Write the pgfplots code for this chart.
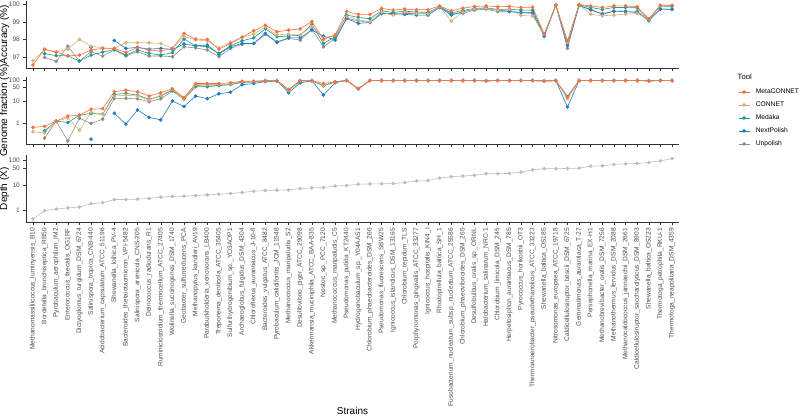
\documentclass[border=0pt]{standalone}
\usepackage{pgfplots}
\pgfplotsset{compat=1.18}
\usepackage{pgfplotstable}
\usepackage{fontspec}
\setmainfont{Liberation Sans}
\definecolor{cMeta}{HTML}{F8703F}
\definecolor{cCon}{HTML}{DDB07A}
\definecolor{cMed}{HTML}{1C9C8A}
\definecolor{cNext}{HTML}{1E7DC8}
\definecolor{cUn}{HTML}{8D8D8D}
\definecolor{cDep}{HTML}{BDBDBD}
\definecolor{gthirty}{HTML}{4D4D4D}
\definecolor{axcol}{HTML}{333333}

\pgfplotstableread{
i acM acC acD acN acU gfM gfC gfD gfN gfU dep
0 96.55 96.79 nan nan nan 0.61 0.38 nan nan nan 0.47
1 97.45 97.40 97.19 nan 96.98 0.68 0.33 0.42 nan 0.19 1.0
2 97.28 97.28 97.08 nan 96.76 1.2 1.2 1.2 nan 1.2 1.17
3 97.07 97.45 97.07 nan 97.62 2.1 1.7 1.04 nan 0.14 1.3
4 97.11 98.00 96.77 nan 96.77 2.3 0.45 2.3 nan 1.66 1.4
5 97.40 97.62 97.11 97.55 97.30 4.4 3.1 2.75 0.17 0.94 1.9
6 97.49 97.52 97.28 nan 97.06 4.7 2.6 2.55 nan 1.49 2.1
7 97.49 97.49 97.43 97.94 97.40 29.5 18.4 22 2.85 14.4 2.8
8 97.26 97.81 97.11 97.49 97.06 35 20 24.6 0.87 14.4 2.8
9 97.55 97.81 97.40 97.55 97.30 29.5 18.4 20.5 4.07 13.7 2.9
10 97.40 97.81 97.21 97.45 97.06 18.4 12 12.9 1.8 10.0 3.1
11 97.34 97.77 97.11 97.49 97.06 26.5 20 18.4 1.38 13.7 3.5
12 97.49 97.49 97.25 97.43 97.02 41 38 35 10.7 31.6 3.7
13 98.34 98.15 98.02 97.74 97.58 15.5 12.9 14 5.9 12.9 3.8
14 98.02 97.98 97.64 97.64 97.52 72 65 58 18.4 50.6 4.06
15 98.00 97.91 97.58 97.68 97.40 72 65 54 13.9 50.6 4.3
16 97.45 97.52 97.21 97.17 97.02 72 65 58 23.7 58 4.57
17 97.77 97.83 97.64 97.58 97.49 78 70 65 28 65 4.87
18 98.13 98.11 97.92 97.77 97.74 93 88 85 63 80 5.34
19 98.49 98.30 98.09 97.77 97.77 93 90 88 72 85 6.0
20 98.81 98.70 98.60 98.34 98.28 100 95 92 90 90 6.4
21 98.43 98.25 98.15 97.85 97.83 99 97 96 95 96 6.6
22 98.53 98.30 98.19 98.09 98.06 38 34 34 26.6 36 6.76
23 98.60 98.25 98.23 98.09 97.96 100 98 96 78 96 7.68
24 99.02 98.75 98.85 98.53 98.58 99 99 99 98 98 8.1
25 98.00 98.09 97.77 98.19 97.58 72 60 58 20.5 55 8.4
26 98.25 98.23 98.15 97.96 98.06 87 88 86 78 85 9.7
27 99.59 99.30 99.38 99.19 99.19 100 100 100 100 100 10.1
28 99.42 99.10 99.25 98.91 99.06 41 41 41 41 41 11.4
29 99.42 99.00 99.17 98.96 98.96 99.6 99.6 99.6 99.6 99.6 11.7
30 99.76 99.55 99.62 99.47 99.47 99.6 99.6 99.6 99.6 99.6 11.9
31 99.66 99.38 99.53 99.47 99.42 99.6 99.6 99.6 99.6 99.6 12.1
32 99.72 99.55 99.60 99.42 99.47 99.6 99.6 99.6 99.6 99.6 13.3
33 99.68 99.47 99.55 99.38 99.47 99.6 99.6 99.6 99.6 99.6 15.3
34 99.68 99.45 99.53 99.38 99.45 99.6 99.6 99.6 99.6 99.6 15.9
35 99.90 99.85 99.85 99.81 99.81 99.6 99.6 99.6 99.6 99.6 20.1
36 99.62 99.04 99.51 99.38 99.45 99.6 99.6 99.6 99.6 99.6 22.9
37 99.77 99.55 99.64 99.57 99.47 99.6 99.6 99.6 99.6 99.6 24.2
38 99.87 99.72 99.76 99.70 99.66 99.6 99.6 99.6 99.6 99.6 25.8
39 99.90 99.75 99.79 99.75 99.72 97 97 97 97 97 30.0
40 99.85 99.66 99.70 99.66 99.57 99.6 99.6 99.6 99.6 99.6 30.0
41 99.87 99.70 99.72 99.60 99.57 99.6 99.6 99.6 99.6 99.6 30.9
42 99.81 99.36 99.66 99.53 99.51 99.6 99.6 99.6 99.6 99.6 34.8
43 99.83 99.32 99.66 99.53 99.47 99.6 99.6 99.6 99.6 99.6 43.3
44 98.31 98.28 98.28 98.17 98.25 95 95 95 95 95 47.4
45 99.94 99.94 99.94 99.94 99.94 99.6 99.6 99.6 99.6 99.6 47.4
46 97.92 97.83 97.81 97.66 97.49 16.6 13.9 17.5 5.6 15.5 48.7
47 99.98 99.96 99.96 99.92 99.94 99.6 99.6 99.6 99.6 99.6 50
48 99.90 99.43 99.81 99.70 99.66 99.6 99.6 99.6 99.6 99.6 60
49 99.81 99.34 99.70 99.42 99.47 99.6 99.6 99.6 99.6 99.6 62
50 99.90 99.38 99.81 99.60 99.60 99.6 99.6 99.6 99.6 99.6 70
51 99.90 99.43 99.81 99.57 99.60 99.6 99.6 99.6 99.6 99.6 75
52 99.85 99.47 99.79 99.53 99.60 99.6 99.6 99.6 99.6 99.6 77
53 99.17 99.15 99.15 99.06 99.12 97 97 97 97 97 84
54 99.94 99.92 99.89 99.72 99.72 99.6 99.6 99.6 99.6 99.6 98
55 99.94 99.92 99.87 99.70 99.72 99.6 99.6 99.6 99.6 99.6 121
}\strains

\pgfplotsset{
  panel/.style={
    scale only axis, width=653pt, height=66.5pt,
    xmin=-0.6, xmax=55.6,
    axis x line*=bottom, axis y line*=left,
    axis line style={axcol, line width=0.6pt},
    every tick/.style={axcol, line width=0.5pt},
    tick align=outside, major tick length=2.6pt,
    xtick={0,...,55},
    tick label style={font=\fontsize{6.6}{7.5}\selectfont, text=gthirty},
    /pgf/number format/assume math mode=true,
    unbounded coords=jump,
    label style={font=\fontsize{8.3}{9.5}\selectfont},
    every axis y label/.style={at={(axis description cs:-0.0329,0.5)}, rotate=90, anchor=center},
    clip=false,
  },
  ser/.style={line width=0.6pt, #1, mark=*, mark size=1.5pt, mark options={solid, fill=#1, draw=#1}},
}

\begin{document}
\begin{tikzpicture}[x=1pt,y=1pt]
\path[use as bounding box] (0,0) rectangle (800,417);

% Accuracy
\begin{axis}[panel, at={(26pt,349pt)}, anchor=south west,
  ymin=96.38, ymax=100.15, ytick={97,98,99,100}, xticklabels={},
  ylabel={Accuracy (\%)}]
\addplot[ser=cUn] table[x=i,y=acU]{\strains};
\addplot[ser=cNext] table[x=i,y=acN]{\strains};
\addplot[ser=cMed] table[x=i,y=acD]{\strains};
\addplot[ser=cCon] table[x=i,y=acC]{\strains};
\addplot[ser=cMeta] table[x=i,y=acM]{\strains};
\end{axis}

% Genome fraction
\begin{axis}[panel, at={(26pt,273pt)}, anchor=south west,
  ymode=log, ymin=0.1, ymax=139, ytick={1,10,50,100}, yticklabels={1,10,50,100},
  yminorticks=false, xticklabels={},
  ylabel={Genome fraction (\%)},
  reverse legend,
  legend cell align=left,
  legend style={at={(axis description cs:1.0904,0.835)}, anchor=north west, draw=none, fill=none,
    inner sep=0pt, row sep=6.5pt, column sep=6pt, font=\fontsize{6.7}{8}\selectfont,
    nodes={inner sep=0pt, text height=5pt, text depth=1.5pt}},
  legend image code/.code={\draw[mark repeat=2,mark phase=2,#1] plot coordinates {(0pt,0pt) (5.5pt,0pt) (11pt,0pt)};},
  ]
\addplot[ser=cUn] table[x=i,y=gfU]{\strains};
\addlegendentry{Unpolish}
\addplot[ser=cNext] table[x=i,y=gfN]{\strains};
\addlegendentry{NextPolish}
\addplot[ser=cMed] table[x=i,y=gfD]{\strains};
\addlegendentry{Medaka}
\addplot[ser=cCon] table[x=i,y=gfC]{\strains};
\addlegendentry{CONNET}
\addplot[ser=cMeta] table[x=i,y=gfM]{\strains};
\addlegendentry{MetaCONNET}
\end{axis}

% Depth
\begin{axis}[panel, at={(26pt,195pt)}, anchor=south west,
  ymode=log, ymin=0.355, ymax=160, ytick={1,10,50,100}, yticklabels={1,10,50,100},
  yminorticks=false,
  ylabel={Depth (X)},
  xlabel={Strains},
  every axis x label/.style={at={(axis description cs:0.5,-2.836)}, anchor=center},
  xticklabel style={rotate=90, anchor=east, font=\fontsize{6.6}{7.5}\selectfont},
  xticklabels={Methanomassiliicoccus\_luminyensis\_B10,
Bordetella\_bronchiseptica\_RB50,
Pyrobaculum\_aerophilum\_IM2,
Enterococcus\_faecalis\_OG1RF,
Dictyoglomus\_turgidum\_DSM\_6724,
Salinispora\_tropica\_CNB-440,
Acidobacterium\_capsulatum\_ATCC\_51196,
Shewanella\_loihica\_PV-4,
Bacteroides\_thetaiotaomicron\_VPI-5482,
Salinispora\_arenicola\_CNS-205,
Deinococcus\_radiodurans\_R1,
Ruminiclostridium\_thermocellum\_ATCC\_27405,
Wolinella\_succinogenes\_DSM\_1740,
Geobacter\_sulfurreducens\_PCA,
Methanopyrus\_kandleri\_AV19,
Paraburkholderia\_xenovorans\_LB400,
Treponema\_denticola\_ATCC\_35405,
Sulfurihydrogenibium\_sp.\_YO3AOP1,
Archaeoglobus\_fulgidus\_DSM\_4304,
Chloroflexus\_aurantiacus\_J-10-fl,
Bacteroides\_vulgatus\_ATCC\_8482,
Pyrobaculum\_calidifontis\_JCM\_11548,
Methanococcus\_maripaludis\_S2,
Desulfovibrio\_piger\_ATCC\_29098,
Akkermansia\_muciniphila\_ATCC\_BAA-835,
Nostoc\_sp.\_PCC\_7120,
Methanococcus\_maripaludis\_C5,
Pseudomonas\_putida\_KT2440,
Hydrogenobaculum\_sp.\_Y04AAS1,
Chlorobium\_phaeobacteroides\_DSM\_266,
Pseudomonas\_fluorescens\_SBW25,
Ignicoccus\_islandicus\_DSM\_13165,
Chlorobium\_tepidum\_TLS,
Porphyromonas\_gingivalis\_ATCC\_33277,
Ignicoccus\_hospitalis\_KIN4\_I,
Rhodopirellula\_baltica\_SH\_1,
Fusobacterium\_nucleatum\_subsp.\_nucleatum\_ATCC\_25586,
Chlorobium\_phaeovibrioides\_DSM\_265,
Desulfobulbus\_oralis\_sp.\_ORNL,
Halobacterium\_salinarum\_NRC-1,
Chlorobium\_limicola\_DSM\_245,
Herpetosiphon\_aurantiacus\_DSM\_785,
Pyrococcus\_horikoshii\_OT3,
Thermoanaerobacter\_pseudethanolicus\_ATCC\_33223,
Shewanella\_baltica\_OS185,
Nitrosomonas\_europaea\_ATCC\_19718,
Caldicellulosiruptor\_bescii\_DSM\_6725,
Gemmatimonas\_aurantiaca\_T-27,
Persephonella\_marina\_EX-H1,
Methanobrevibacter\_oralis\_DSM\_7256,
Methanothermus\_fervidus\_DSM\_2088,
Methanocaldococcus\_jannaschii\_DSM\_2661,
Caldicellulosiruptor\_saccharolyticus\_DSM\_8903,
Shewanella\_baltica\_OS223,
Thermotoga\_petrophila\_RKU-1,
Thermotoga\_neapolitana\_DSM\_4359},
  ]
\addplot[ser=cDep] table[x=i,y=dep]{\strains};
\end{axis}

\node[anchor=west, inner sep=0pt, font=\fontsize{7.7}{9}\selectfont] at (737.5,340) {Tool};
\end{tikzpicture}
\end{document}
